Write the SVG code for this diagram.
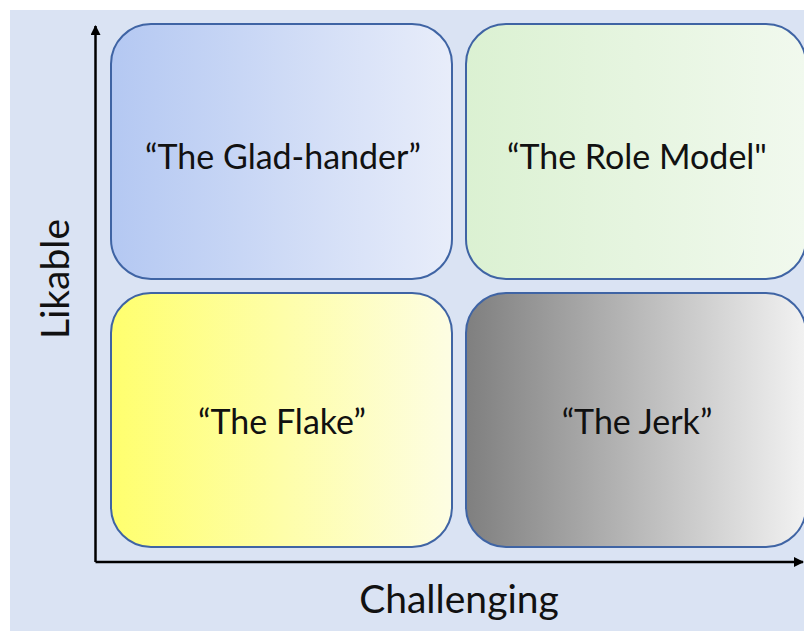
<svg xmlns="http://www.w3.org/2000/svg" width="804" height="631" viewBox="0 0 804 631">
<defs>
<linearGradient id="gBlue" x1="0" y1="0" x2="1" y2="0"><stop offset="0" stop-color="#b4c8f2"/><stop offset="1" stop-color="#e8edfa"/></linearGradient>
<linearGradient id="gGreen" x1="0" y1="0" x2="1" y2="0"><stop offset="0" stop-color="#dbf1d2"/><stop offset="1" stop-color="#f1f9ee"/></linearGradient>
<linearGradient id="gYellow" x1="0" y1="0" x2="1" y2="0"><stop offset="0" stop-color="#ffff6e"/><stop offset="1" stop-color="#fdfde3"/></linearGradient>
<linearGradient id="gGray" x1="0" y1="0" x2="1" y2="0"><stop offset="0" stop-color="#7f7f7f"/><stop offset="1" stop-color="#f2f2f2"/></linearGradient>
<marker id="arr" viewBox="0 0 10 10" refX="9" refY="5" markerWidth="4" markerHeight="4" orient="auto" markerUnits="strokeWidth"><path d="M0,0 L10,5 L0,10 z" fill="#000"/></marker>
</defs>
<style>
.box{stroke:#3f64a4;stroke-width:2}
.lbl{font-family:"Lato","Open Sans","Liberation Sans",sans-serif;font-size:34px;fill:#111;text-anchor:middle;dominant-baseline:central}
.ax{font-family:"Lato","Open Sans","Liberation Sans",sans-serif;font-size:39px;fill:#111;text-anchor:middle;dominant-baseline:central}
.axis{stroke:#000;stroke-width:2.5;fill:none}
</style>
<rect x="0" y="0" width="804" height="631" fill="#ffffff"/>
<rect x="10" y="10" width="794" height="621" fill="#dae3f3"/>
<g id="connectors">
<line class="axis" x1="95.5" y1="562" x2="95.5" y2="26" marker-end="url(#arr)"/>
<line class="axis" x1="95.5" y1="562" x2="803" y2="562" marker-end="url(#arr)"/>
</g>
<g id="glad-hander">
<rect class="box" x="111" y="24" width="341" height="255" rx="40" fill="url(#gBlue)"/>
<text class="lbl" x="283" y="155">“The Glad-hander”</text>
</g>
<g id="role-model">
<rect class="box" x="466" y="24" width="340" height="255" rx="40" fill="url(#gGreen)"/>
<text class="lbl" x="637" y="155">“The Role Model"</text>
</g>
<g id="flake">
<rect class="box" x="111" y="293" width="341" height="254" rx="40" fill="url(#gYellow)"/>
<text class="lbl" x="282" y="420">“The Flake”</text>
</g>
<g id="jerk">
<rect class="box" x="466" y="293" width="340" height="254" rx="40" fill="url(#gGray)"/>
<text class="lbl" x="637" y="420">“The Jerk”</text>
</g>
<g id="axis-labels">
<text class="ax" x="459" y="598">Challenging</text>
<text class="ax" transform="translate(54,279) rotate(-90)">Likable</text>
</g>
</svg>
